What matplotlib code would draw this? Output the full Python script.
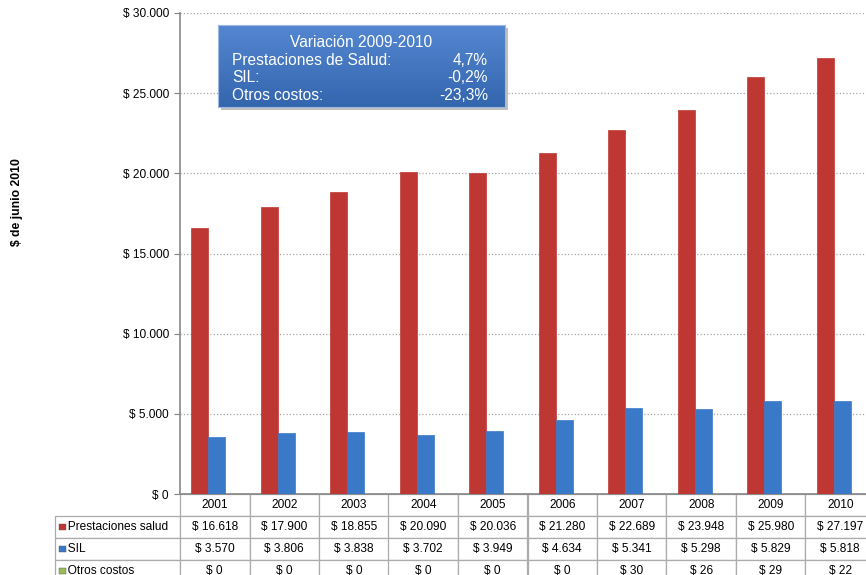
import numpy as np
import matplotlib
matplotlib.use("Agg")
import matplotlib.pyplot as plt
from matplotlib.patches import Rectangle
from matplotlib.ticker import FuncFormatter, MultipleLocator

plt.rcParams['font.family'] = ['Liberation Sans', 'DejaVu Sans']

## Data

years = ["2001", "2002", "2003", "2004", "2005", "2006", "2007", "2008", "2009", "2010"]
prestaciones = [16618, 17900, 18855, 20090, 20036, 21280, 22689, 23948, 25980, 27197]
sil = [3570, 3806, 3838, 3702, 3949, 4634, 5341, 5298, 5829, 5818]
otros = [0, 0, 0, 0, 0, 0, 30, 26, 29, 22]

series_names = ["Prestaciones salud", "SIL", "Otros costos"]
series_colors = ["#BE3732", "#3A78C8", "#9BBB59"]

variacion_labels = ["Prestaciones de Salud:", "SIL:", "Otros costos:"]
variacion_values = ["4,7%", "-0,2%", "-23,3%"]


def peso(v):
    return "$ " + f"{int(v):,}".replace(",", ".")


W, H = 866, 575
fig = plt.figure(figsize=(W / 100, H / 100), dpi=100)
ax = fig.add_axes([180 / W, 1 - 494 / H, 695 / W, 481 / H])

## Bars

x = np.arange(len(years))
bw = 0.245
offsets = [-0.215, 0.03, 0.275]
for vals, off, col in zip([prestaciones, sil, otros], offsets, series_colors):
    ax.bar(x + off, vals, width=bw, color=col, edgecolor=col, linewidth=0.5, zorder=3)

ax.set_xlim(-0.5, len(years) - 0.5)
ax.set_ylim(0, 30000)
ax.yaxis.set_major_locator(MultipleLocator(5000))
ax.yaxis.set_major_formatter(FuncFormatter(lambda v, p: peso(v)))
ax.yaxis.grid(True, linestyle=':', color='#A6A6A6', linewidth=0.9, zorder=0)
ax.set_xticks([])
ax.tick_params(axis='y', labelsize=8.6, length=4, color='#808080', pad=4)
for s in ['top', 'right']:
    ax.spines[s].set_visible(False)
for s in ['left', 'bottom']:
    ax.spines[s].set_color('#888888')
    ax.spines[s].set_linewidth(1.2)

fig.text(17 / W, 1 - 202 / H, "$ de junio 2010", rotation=90, ha='center', va='center',
         fontsize=8.8, fontweight='bold')

## Data table

row_h = 22 / 481
lab_w = 125 / 695
cell_text = [[peso(v) for v in prestaciones],
             [peso(v) for v in sil],
             [peso(v) for v in otros]]
tbl = ax.table(cellText=cell_text,
               rowLabels=["   " + n for n in series_names],
               colLabels=years,
               colWidths=[1 / len(years)] * len(years),
               cellLoc='center', rowLoc='left', colLoc='center',
               bbox=[0, -4 * row_h, 1, 4 * row_h])
tbl._autoColumns = []
tbl.auto_set_font_size(False)
tbl.set_fontsize(8.6)
for (r, c), cell in tbl.get_celld().items():
    if c == -1:
        cell.set_width(lab_w)
    cell.set_edgecolor('#ABABAB')
    cell.set_linewidth(0.9)
    cell.PAD = 0.02

for i, col in enumerate(series_colors):
    yc = -row_h * (i + 1.5)
    ax.add_patch(Rectangle((-lab_w + 0.006, yc - 0.007), 0.0095, 0.014,
                           facecolor=col, edgecolor='#555555', linewidth=0.3,
                           transform=ax.transAxes, clip_on=False, zorder=5))

## Variation box

shadow = fig.add_axes([221 / W, 1 - 110 / H, 287 / W, 82 / H])
shadow.set_facecolor('#BFBFBF')
shadow.set_xticks([])
shadow.set_yticks([])
for s in shadow.spines.values():
    s.set_visible(False)

bax = fig.add_axes([218 / W, 1 - 107 / H, 287 / W, 82 / H])
grad = np.linspace(0, 1, 100).reshape(-1, 1)
top = np.array([0.33, 0.53, 0.82])
bot = np.array([0.20, 0.40, 0.68])
img = top * (1 - grad[..., None]) + bot * grad[..., None]
bax.imshow(img, extent=[0, 1, 0, 1], aspect='auto', origin='upper')
bax.set_xlim(0, 1)
bax.set_ylim(0, 1)
bax.set_xticks([])
bax.set_yticks([])
for s in bax.spines.values():
    s.set_color('#9DB7DE')
    s.set_linewidth(0.8)

bax.text(0.5, 0.79, "Variación 2009-2010", ha='center', va='center', color='white', fontsize=11.2)
for i, (lab, val) in enumerate(zip(variacion_labels, variacion_values)):
    yy = 0.57 - i * 0.212
    bax.text(0.049, yy, lab, ha='left', va='center', color='white', fontsize=11.2)
    bax.text(0.94, yy, val, ha='right', va='center', color='white', fontsize=11.2)

fig.savefig("out.png", dpi=100)
